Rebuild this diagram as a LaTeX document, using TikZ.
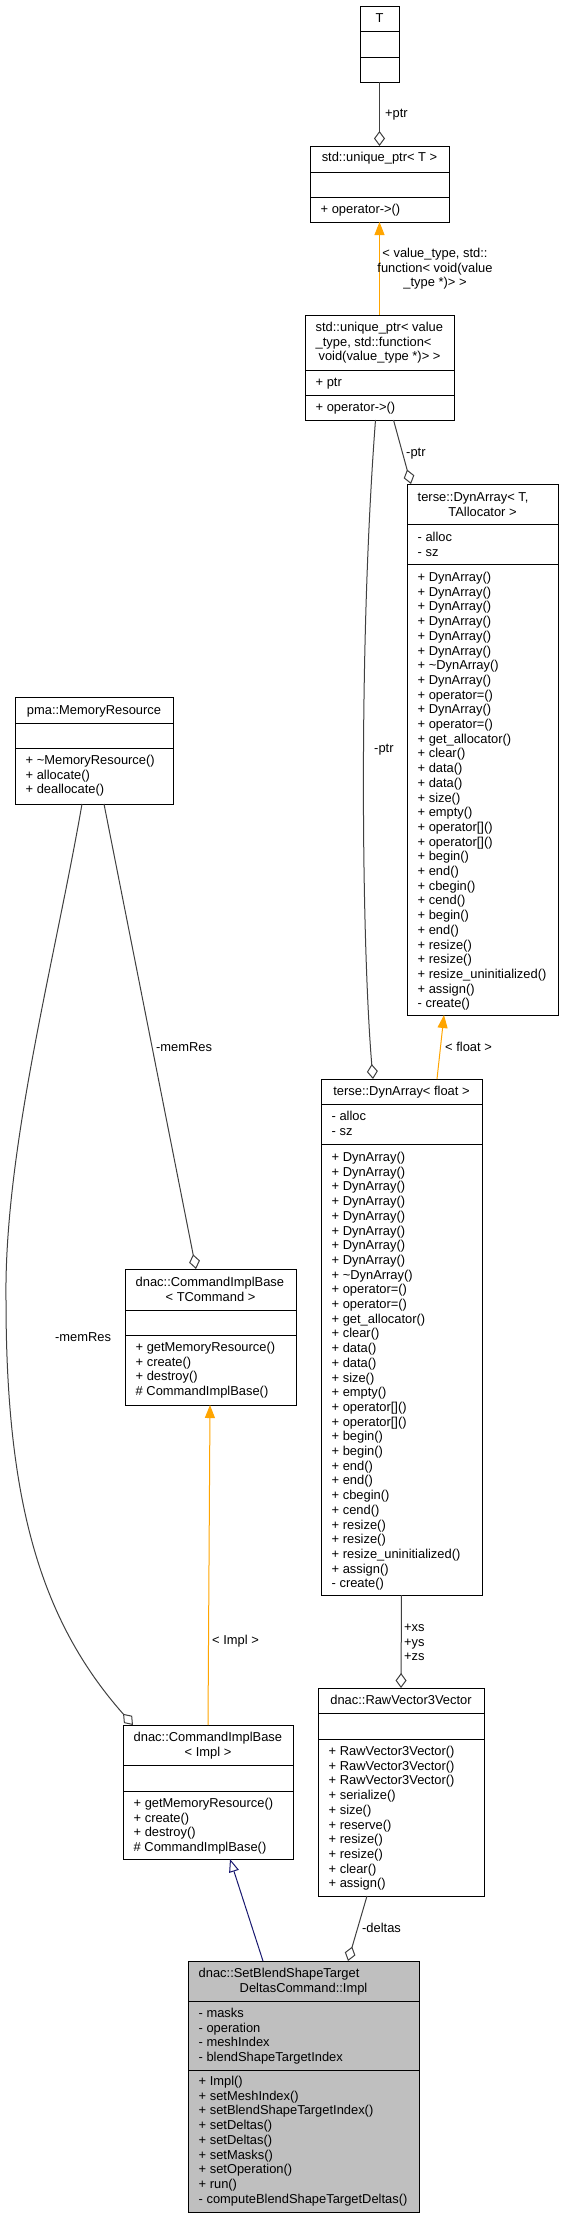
\documentclass[tikz,border=0pt]{standalone}
\usepackage{fontspec}
\setmainfont{Liberation Sans}
\usetikzlibrary{arrows.meta,calc}
\definecolor{edgegrey}{HTML}{404040}
\definecolor{inhorange}{HTML}{FFA500}
\definecolor{inhblue}{HTML}{191970}
\definecolor{mainfill}{HTML}{BFBFBF}
\tikzset{
  cls/.style={draw=black, line width=1pt, inner sep=0pt, outer sep=0pt, rectangle, fill=white},
  clsline/.style={draw=black, line width=1pt},
  mtext/.style={inner sep=0pt, font=\fontsize{12.9}{14.7}\selectfont, text=black},
  lbl/.style={mtext},
  aggedge/.style={draw=edgegrey, line width=1pt, -{Diamond[open, length=15pt, width=11pt]}},
  tmpledge/.style={draw=inhorange, line width=1pt, -{Triangle[length=13pt, width=10pt]}},
  inhedge/.style={draw=inhblue, line width=1pt, -{Triangle[open, length=13pt, width=10pt, fill=white]}},
}
\newcommand\umlbox[8][]{%
  \node[cls,#1, minimum width={#5-#3}, minimum height={#6-#4}] (#2) at ({(#3+#5)/2},{(#4+#6)/2}) {};
  \draw[clsline] (#3,#7) -- (#5,#7);
  \draw[clsline] (#3,#8) -- (#5,#8);
}
\newcommand\members[4]{%
  \foreach \mtxt [count=\mi from 0] in {#4} {%
    \node[mtext, anchor=base west] (#1-\mi) at (#2, {#3+\mi*14.7}) {\mtxt};
  }%
}
\begin{document}
\begin{tikzpicture}[x=1pt,y=-1pt]
\useasboundingbox (0,0) rectangle (564,2219);
\fill[white] (0,0) rectangle (564,2219);

% ---- T
\umlbox{T}{360}{6}{399}{82}{31}{57}
\node[mtext,anchor=base] (T-h0) at (379.5,22) {T};

% ---- std::unique_ptr< T >
\umlbox{uptrT}{310}{146}{449}{222}{172}{197}
\node[mtext,anchor=base] (uptrT-h0) at (379.5,161.5) {std::unique\_ptr< T >};
\members{uptrT-m}{320.5}{213.5}{+ operator->()}

% ---- std::unique_ptr< value_type, ... >
\umlbox{uptrV}{305}{315}{454}{420}{370}{395}
\node[mtext,anchor=base west] (uptrV-h0) at (315.5,331.5) {std::unique\_ptr< value};
\node[mtext,anchor=base west] (uptrV-h1) at (315.5,346.2) {\_type, std::function<};
\node[mtext,anchor=base] (uptrV-h2) at (379.5,360.9) {void(value\_type *)> >};
\members{uptrV-a}{315.5}{386.5}{+ ptr}
\members{uptrV-m}{315.5}{411.5}{+ operator->()}

% ---- terse::DynArray< T, TAllocator >
\umlbox{DynT}{407}{484}{558}{1015}{524}{564}
\node[mtext,anchor=base west] (DynT-h0) at (417.5,501.5) {terse::DynArray< T,};
\node[mtext,anchor=base] (DynT-h1) at (482.5,516.2) {TAllocator >};
\members{DynT-a}{417.5}{541.5}{- alloc,- sz}
\members{DynT-m}{417.5}{581.5}{+ DynArray(),+ DynArray(),+ DynArray(),+ DynArray(),+ DynArray(),+ DynArray(),+ \textasciitilde DynArray(),+ DynArray(),+ operator=(),+ DynArray(),+ operator=(),+ get\_allocator(),+ clear(),+ data(),+ data(),+ size(),+ empty(),+ operator[](),+ operator[](),+ begin(),+ end(),+ cbegin(),+ cend(),+ begin(),+ end(),+ resize(),+ resize(),+ resize\_uninitialized(),+ assign(),- create()}

% ---- terse::DynArray< float >
\umlbox{DynF}{321}{1079}{482}{1595}{1104}{1144}
\node[mtext,anchor=base] (DynF-h0) at (401.5,1095.5) {terse::DynArray< float >};
\members{DynF-a}{331.5}{1120.5}{- alloc,- sz}
\members{DynF-m}{331.5}{1161.5}{+ DynArray(),+ DynArray(),+ DynArray(),+ DynArray(),+ DynArray(),+ DynArray(),+ DynArray(),+ DynArray(),+ \textasciitilde DynArray(),+ operator=(),+ operator=(),+ get\_allocator(),+ clear(),+ data(),+ data(),+ size(),+ empty(),+ operator[](),+ operator[](),+ begin(),+ begin(),+ end(),+ end(),+ cbegin(),+ cend(),+ resize(),+ resize(),+ resize\_uninitialized(),+ assign(),- create()}

% ---- dnac::RawVector3Vector
\umlbox{RV3}{318}{1688}{484}{1896}{1713}{1739}
\node[mtext,anchor=base] (RV3-h0) at (401,1704.5) {dnac::RawVector3Vector};
\members{RV3-m}{328.5}{1755.5}{+ RawVector3Vector(),+ RawVector3Vector(),+ RawVector3Vector(),+ serialize(),+ size(),+ reserve(),+ resize(),+ resize(),+ clear(),+ assign()}

% ---- dnac::SetBlendShapeTargetDeltasCommand::Impl
\umlbox[fill=mainfill]{Impl}{188}{1961}{419}{2212}{2001}{2070}
\node[mtext,anchor=base west] (Impl-h0) at (198.5,1977.5) {dnac::SetBlendShapeTarget};
\node[mtext,anchor=base] (Impl-h1) at (303.5,1992.2) {DeltasCommand::Impl};
\members{Impl-a}{198.5}{2017.5}{- masks,- operation,- meshIndex,- blendShapeTargetIndex}
\members{Impl-m}{198.5}{2085.5}{+ Impl(),+ setMeshIndex(),+ setBlendShapeTargetIndex(),+ setDeltas(),+ setDeltas(),+ setMasks(),+ setOperation(),+ run(),- computeBlendShapeTargetDeltas()}

% ---- dnac::CommandImplBase< Impl >
\umlbox{CIBImpl}{123}{1725}{293}{1859}{1765}{1791}
\node[mtext,anchor=base west] (CIBImpl-h0) at (133.5,1741.5) {dnac::CommandImplBase};
\node[mtext,anchor=base] (CIBImpl-h1) at (208,1756.2) {< Impl >};
\members{CIBImpl-m}{133.5}{1807.5}{+ getMemoryResource(),+ create(),+ destroy(),\# CommandImplBase()}

% ---- dnac::CommandImplBase< TCommand >
\umlbox{CIBT}{125}{1269}{296}{1405}{1310}{1335}
\node[mtext,anchor=base west] (CIBT-h0) at (135.5,1286.5) {dnac::CommandImplBase};
\node[mtext,anchor=base] (CIBT-h1) at (210.5,1301.2) {< TCommand >};
\members{CIBT-m}{135.5}{1351.5}{+ getMemoryResource(),+ create(),+ destroy(),\# CommandImplBase()}

% ---- pma::MemoryResource
\umlbox{MemRes}{15}{697}{173}{804}{723}{748}
\node[mtext,anchor=base] (MemRes-h0) at (94,714.5) {pma::MemoryResource};
\members{MemRes-m}{25.5}{764.5}{+ \textasciitilde MemoryResource(),+ allocate(),+ deallocate()}

% ---- connectors
\draw[aggedge] (T.south) -- (uptrT.north);
\node[lbl,anchor=base west] (l-ptr1) at (385,117.5) {+ptr};

\draw[tmpledge] (uptrV.north) -- (uptrT.south);
\node[lbl,anchor=base] (l-vt0) at (435,257.5) {< value\_type, std::};
\node[lbl,anchor=base] (l-vt1) at (435,272.2) {function< void(value};
\node[lbl,anchor=base] (l-vt2) at (435,286.9) {\_type *)> >};

\draw[aggedge] ($(uptrV.south)+(14,0)$) -- ($(DynT.north west)+(4,0)$);
\node[lbl,anchor=base west] (l-ptr2) at (406,456.5) {-ptr};

\draw[aggedge] ($(uptrV.south)+(-4,0)$) .. controls (358,650) and (362,950) .. ($(DynF.north west)+(52,0)$);
\node[lbl,anchor=base west] (l-ptr3) at (374,752.5) {-ptr};

\draw[tmpledge] ($(DynF.north)+(35.5,0)$) -- ($(DynT.south)+(-38.5,0)$);
\node[lbl,anchor=base west] (l-float) at (445,1051.5) {< float >};

\draw[aggedge] (DynF.south) -- (RV3.north);
\members{l-xyz}{404}{1631.5}{+xs,+ys,+zs}

\draw[aggedge] ($(RV3.south)+(-34,0)$) -- ($(Impl.north)+(44.5,0)$);
\node[lbl,anchor=base west] (l-deltas) at (362,1932.5) {-deltas};

\draw[inhedge] ($(Impl.north)+(-40.5,0)$) -- ($(CIBImpl.south)+(22,0)$);

\draw[tmpledge] (CIBImpl.north) -- ($(CIBT.south)+(-0.5,0)$);
\node[lbl,anchor=base west] (l-impl) at (212,1644.5) {< Impl >};

\draw[aggedge] ($(MemRes.south)+(10,0)$) -- ($(CIBT.north)+(-14.5,0)$);
\node[lbl,anchor=base west] (l-mem1) at (156,1051.5) {-memRes};

\draw[aggedge] ($(MemRes.south)+(-12,0)$) .. controls (55,960) and (4,1150) .. (6,1300)
  .. controls (6,1500) and (40,1620) .. ($(CIBImpl.north west)+(10,0)$);
\node[lbl,anchor=base west] (l-mem2) at (55,1341.5) {-memRes};
\end{tikzpicture}
\end{document}
